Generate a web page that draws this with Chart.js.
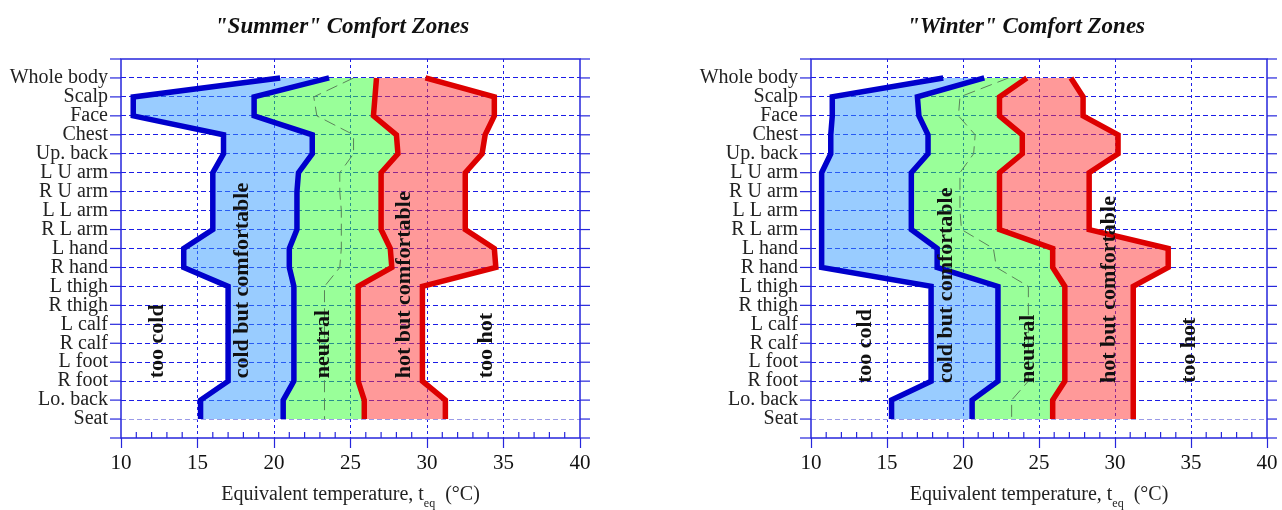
<!DOCTYPE html>
<html lang="en">
<head>
<meta charset="UTF-8" />
<title>Comfort Zones</title>
<style>
  body { margin: 0; background: #fff; overflow: hidden; }
  canvas { position: absolute; top: 0; }
  #summerChart { left: 0; }
  #winterChart { left: 690px; }
</style>
</head>
<body>
<canvas id="summerChart" width="640" height="510"></canvas>
<canvas id="winterChart" width="600" height="510"></canvas>
<script src="https://cdn.jsdelivr.net/npm/chart.js"></script>
<script>
  // body segments, top to bottom
  const bodyParts = ["Whole body", "Scalp", "Face", "Chest", "Up. back", "L U arm", "R U arm",
    "L L arm", "R L arm", "L hand", "R hand", "L thigh", "R thigh", "L calf", "R calf",
    "L foot", "R foot", "Lo. back", "Seat"];
  const xTicks = [10, 15, 20, 25, 30, 35, 40];
  const zoneNames = ["too cold", "cold but comfortable", "neutral", "hot but comfortable", "too hot"];

  // summer zone boundaries (degC)
  const summerColdLimit = [20.4, 10.8, 10.8, 16.7, 16.7, 16.0, 16.0, 16.0, 16.0, 14.1, 14.1, 17.0, 17.0, 17.0, 17.0, 17.0, 17.0, 15.2, 15.2];
  const summerNeutralLow = [23.6, 18.7, 18.7, 22.5, 22.5, 21.6, 21.5, 21.5, 21.5, 21.0, 21.0, 21.3, 21.3, 21.3, 21.3, 21.3, 21.3, 20.6, 20.6];
  const summerNeutralMid = [25.2, 22.6, 22.8, 25.2, 25.2, 24.3, 24.3, 24.4, 24.4, 24.4, 24.3, 23.3, 23.3, 23.3, 23.3, 23.3, 23.3, 23.3, 23.3];
  const summerNeutralHigh = [26.7, 26.6, 26.5, 28.0, 28.1, 27.0, 27.0, 27.0, 27.0, 27.6, 27.7, 25.5, 25.5, 25.5, 25.5, 25.5, 25.5, 25.9, 25.9];
  const summerHotLimit = [29.9, 34.4, 34.4, 33.8, 33.6, 32.5, 32.5, 32.5, 32.5, 34.4, 34.5, 29.7, 29.7, 29.7, 29.7, 29.7, 29.7, 31.2, 31.2];

  // winter zone boundaries (degC)
  const winterColdLimit = [18.7, 11.4, 11.4, 11.3, 11.3, 10.7, 10.7, 10.7, 10.7, 10.7, 10.7, 17.9, 17.9, 17.9, 17.9, 17.9, 17.9, 15.3, 15.3];
  const winterNeutralLow = [21.4, 17.0, 17.1, 17.7, 17.7, 16.6, 16.6, 16.6, 16.6, 18.3, 18.3, 22.3, 22.3, 22.3, 22.3, 22.3, 22.3, 20.6, 20.6];
  const winterNeutralMid = [23.0, 19.8, 19.7, 20.8, 20.7, 19.8, 19.8, 19.8, 19.9, 22.0, 22.2, 24.3, 24.3, 24.3, 24.3, 24.3, 24.3, 23.2, 23.2];
  const winterNeutralHigh = [24.2, 22.4, 22.4, 23.9, 23.9, 22.4, 22.4, 22.4, 22.4, 25.9, 25.9, 26.7, 26.7, 26.7, 26.7, 26.7, 26.7, 25.9, 25.9];
  const winterHotLimit = [27.1, 27.9, 27.9, 30.2, 30.2, 28.3, 28.3, 28.3, 28.3, 33.5, 33.5, 31.2, 31.2, 31.2, 31.2, 31.2, 31.2, 31.2, 31.2];

  const serif = '"Liberation Serif", "Times New Roman", serif';
  const gridBlue = "#1c1ce6";
  const frameBlue = "#2626dc";

  // frame, outside row ticks, minor x ticks, zone names, titles
  const zonePlugin = {
    id: "zones",
    afterDatasetsDraw(chart, args, opts) {
      const { ctx, chartArea: a, scales: { x, y } } = chart;
      const seg = (x1, y1, x2, y2) => { ctx.beginPath(); ctx.moveTo(x1, y1); ctx.lineTo(x2, y2); ctx.stroke(); };
      ctx.save();
      ctx.strokeStyle = frameBlue;
      ctx.lineWidth = 1.5;
      ctx.strokeRect(a.left, a.top, a.right - a.left, a.bottom - a.top);
      ctx.lineWidth = 1.2;
      for (let r = -1; r <= bodyParts.length; r++) {
        const py = y.getPixelForValue(r);
        seg(a.left - 11, py, a.left, py);
        seg(a.right, py, a.right + 10, py);
      }
      for (let v = 11; v < 40; v++) {
        if (v % 5 === 0) continue;
        const px = x.getPixelForValue(v);
        seg(px, a.bottom, px, a.bottom - 6);
      }

      // zone names, rotated
      ctx.fillStyle = "#111";
      ctx.font = "bold 22px " + serif;
      ctx.textAlign = "left";
      ctx.textBaseline = "middle";
      opts.labelX.forEach((v, i) => {
        ctx.save();
        ctx.translate(x.getPixelForValue(v), y.getPixelForValue(opts.labelRow));
        ctx.rotate(-Math.PI / 2);
        ctx.fillText(zoneNames[i], 0, 0);
        ctx.restore();
      });

      // title
      ctx.font = "italic bold 23px " + serif;
      ctx.textAlign = "center";
      ctx.fillText(opts.title, opts.titleX, 27);

      // x axis title with subscript
      const main = "Equivalent temperature, t", sub = "eq", unit = "  (°C)";
      ctx.font = "20px " + serif;
      const w1 = ctx.measureText(main).width, w3 = ctx.measureText(unit).width;
      ctx.font = "12px " + serif;
      const w2 = ctx.measureText(sub).width;
      let sx = (a.left + a.right) / 2 - (w1 + w2 + w3) / 2;
      ctx.textAlign = "left";
      ctx.textBaseline = "alphabetic";
      ctx.fillStyle = "#222";
      ctx.font = "20px " + serif;
      ctx.fillText(main, sx, 500);
      ctx.font = "12px " + serif;
      ctx.fillText(sub, sx + w1, 507);
      ctx.font = "20px " + serif;
      ctx.fillText(unit, sx + w1 + w2, 500);
      ctx.restore();
    },
  };

  function makeDatasets(cold, low, mid, high, hot) {
    const pts = (arr) => arr.map((v, i) => ({ x: v, y: i }));
    const thick = { borderWidth: 5.5, pointRadius: 0 };
    return [
      { data: pts(mid), borderColor: "#5a825a", borderWidth: 1, borderDash: [12, 6], pointRadius: 0, fill: false },
      { data: pts(cold), borderColor: "#0000cc", fill: false, ...thick },
      { data: pts(low), borderColor: "#0000cc", fill: 1, backgroundColor: "rgba(51,153,255,0.5)", ...thick },
      { data: pts(high), borderColor: "#dd0000", fill: 2, backgroundColor: "rgba(51,255,51,0.5)", ...thick },
      { data: pts(hot), borderColor: "#dd0000", fill: 3, backgroundColor: "rgba(255,51,51,0.5)", ...thick },
    ];
  }

  function makeChart(id, datasets, rightPad, zones) {
    return new Chart(document.getElementById(id), {
      type: "line",
      data: { datasets },
      plugins: [zonePlugin],
      options: {
        responsive: false,
        animation: false,
        indexAxis: "y",
        layout: { padding: { top: 59, right: rightPad, left: 0, bottom: 0 } },
        elements: { line: { tension: 0, borderCapStyle: "butt", borderJoinStyle: "miter" } },
        plugins: { legend: { display: false }, tooltip: { enabled: false }, zones },
        scales: {
          x: {
            type: "linear",
            min: 10,
            max: 40,
            afterFit: (s) => { s.height = 72; },
            ticks: {
              stepSize: 1,
              autoSkip: false,
              maxRotation: 0,
              padding: 3,
              color: "#111",
              font: { family: serif, size: 21 },
              callback: (v) => (xTicks.includes(v) ? v : ""),
            },
            grid: {
              lineWidth: 1,
              color: (c) => (c.tick && c.tick.value % 5 === 0 && c.tick.value > 10 && c.tick.value < 40 ? gridBlue : "rgba(0,0,0,0)"),
              tickColor: (c) => (c.tick && c.tick.value % 5 === 0 ? frameBlue : "rgba(0,0,0,0)"),
              tickLength: 10,
              tickWidth: 1.2,
            },
            border: { display: false, dash: [3, 3] },
          },
          y: {
            type: "linear",
            reverse: true,
            min: -1,
            max: bodyParts.length,
            afterFit: (s) => { s.width = 121; },
            ticks: {
              stepSize: 1,
              autoSkip: false,
              padding: 13,
              color: "#222",
              font: { family: serif, size: 20 },
              callback: (v) => bodyParts[v] ?? "",
            },
            grid: {
              drawTicks: false,
              lineWidth: 1,
              color: (c) => {
                const v = c.tick ? c.tick.value : -1;
                if (v < 0 || v >= bodyParts.length) return "rgba(0,0,0,0)";
                return v === bodyParts.length - 1 ? "#9a9ae8" : gridBlue;
              },
            },
            border: { display: false, dash: [5, 3] },
          },
        },
      },
    });
  }

  makeChart("summerChart",
    makeDatasets(summerColdLimit, summerNeutralLow, summerNeutralMid, summerNeutralHigh, summerHotLimit),
    60,
    { title: '"Summer" Comfort Zones', titleX: 342, labelX: [12.4, 17.9, 23.2, 28.5, 33.9], labelRow: 15.85 });

  makeChart("winterChart",
    makeDatasets(winterColdLimit, winterNeutralLow, winterNeutralMid, winterNeutralHigh, winterHotLimit),
    23,
    { title: '"Winter" Comfort Zones', titleX: 336, labelX: [13.55, 18.9, 24.3, 29.6, 34.9], labelRow: 16.1 });
</script>
</body>
</html>
